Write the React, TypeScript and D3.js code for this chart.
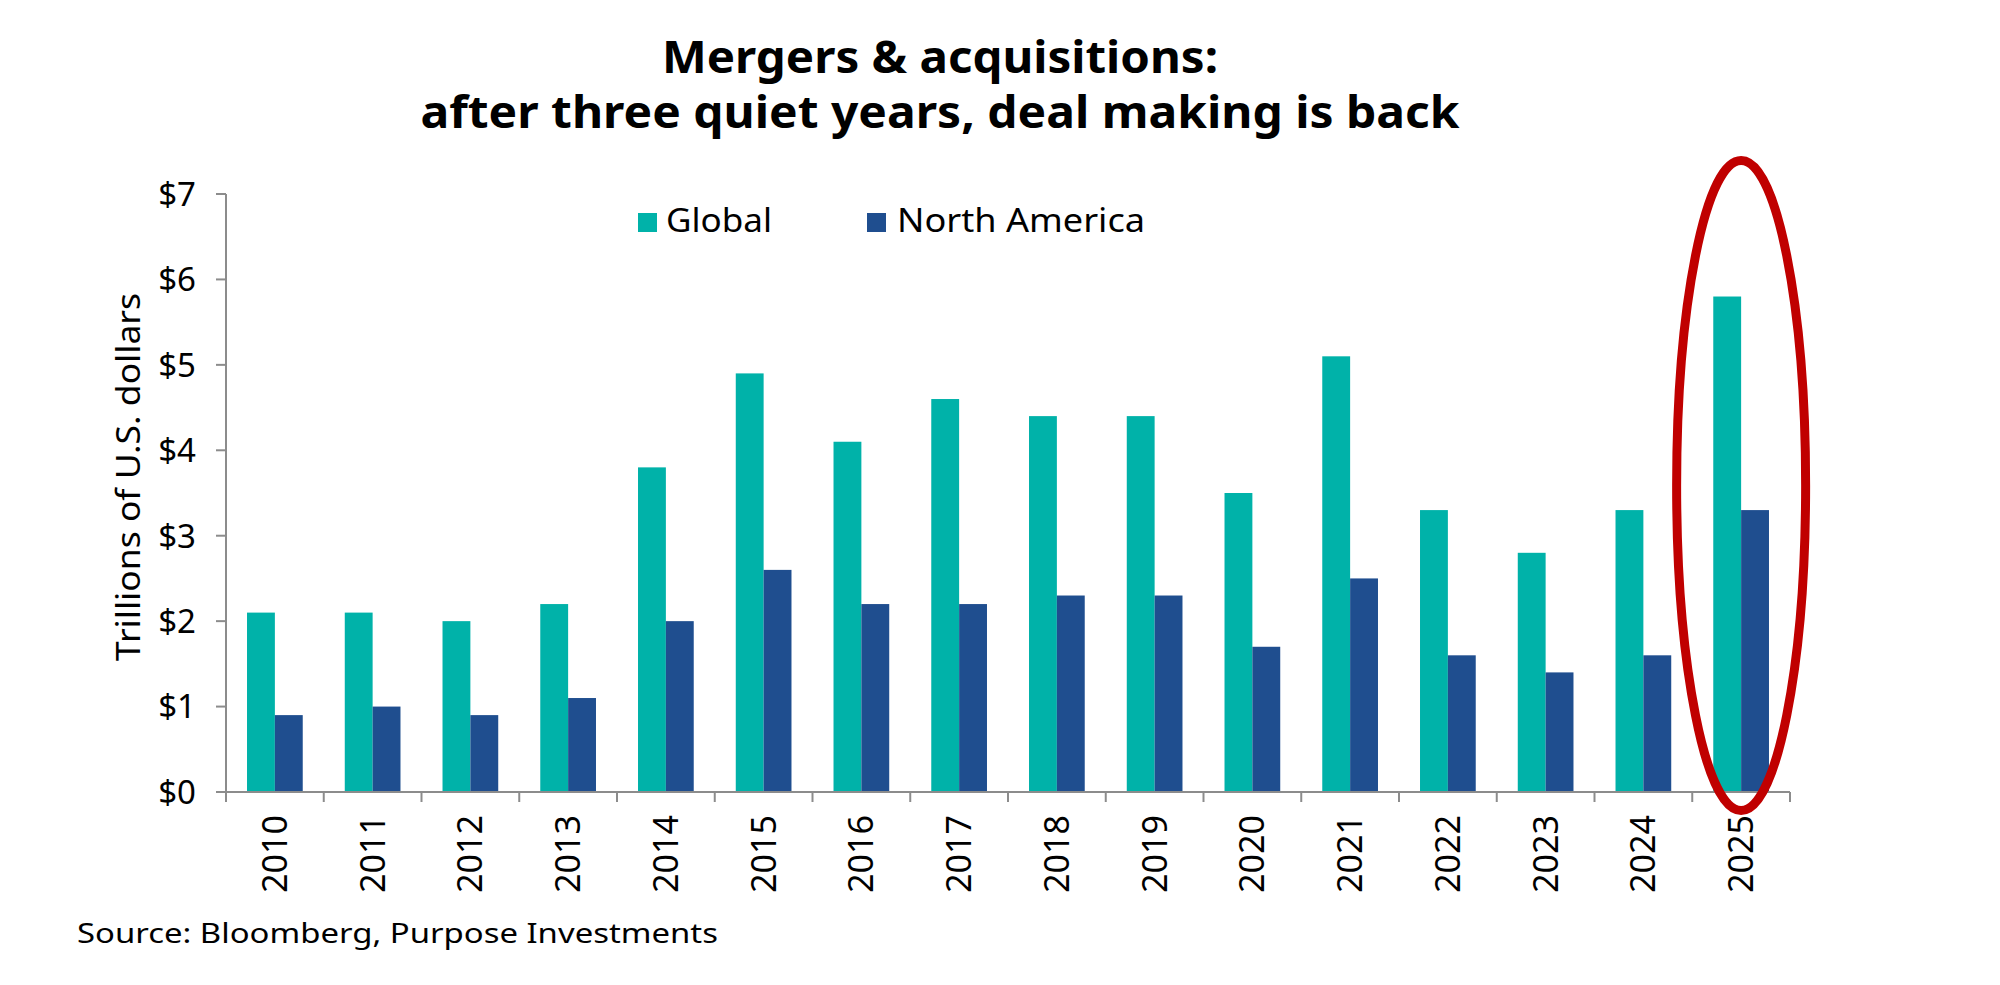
import React from "react";
import * as d3 from "d3";

const years = ["2010","2011","2012","2013","2014","2015","2016","2017","2018","2019","2020","2021","2022","2023","2024","2025"];
const globalValues = [2.1, 2.1, 2.0, 2.2, 3.8, 4.9, 4.1, 4.6, 4.4, 4.4, 3.5, 5.1, 3.3, 2.8, 3.3, 5.8];
const northAmericaValues = [0.9, 1.0, 0.9, 1.1, 2.0, 2.6, 2.2, 2.2, 2.3, 2.3, 1.7, 2.5, 1.6, 1.4, 1.6, 3.3];
const seriesNames = ["Global", "North America"];
const yTicks = [0, 1, 2, 3, 4, 5, 6, 7];
const highlightYear = "2025";

const COLORS = ["#00B2A9", "#1F4E8F"];
const FONT = "'Noto Sans', sans-serif";

export default function App() {
  const W = 2000, H = 985;
  const left = 226, right = 1790, top = 194, bottom = 792;

  const x = d3.scaleBand<string>().domain(years).range([left, right]).paddingInner(0.43).paddingOuter(0.215);
  const xs = d3.scaleBand<string>().domain(seriesNames).range([0, x.bandwidth()]);
  const y = d3.scaleLinear().domain([0, 7]).range([bottom, top]);
  const step = x.step();
  const series = [globalValues, northAmericaValues];

  const hx = (x(highlightYear) as number) + x.bandwidth() / 2;

  return (
    <svg width={W} height={H} style={{ position: "absolute", left: 0, top: 0, background: "#fff" }} fontFamily={FONT}>
      {/* Title */}
      <text x={940} y={73} textAnchor="middle" fontSize={45} fontWeight={700} fill="#000" textLength={556} lengthAdjust="spacingAndGlyphs">Mergers &amp; acquisitions:</text>
      <text x={940} y={128} textAnchor="middle" fontSize={45} fontWeight={700} fill="#000" textLength={1039} lengthAdjust="spacingAndGlyphs">after three quiet years, deal making is back</text>

      {/* Legend */}
      <rect x={638} y={213} width={19} height={19} fill={COLORS[0]} />
      <text x={666} y={232} fontSize={33} fill="#000" textLength={106} lengthAdjust="spacingAndGlyphs">{seriesNames[0]}</text>
      <rect x={867} y={213} width={19} height={19} fill={COLORS[1]} />
      <text x={897} y={232} fontSize={33} fill="#000" textLength={248} lengthAdjust="spacingAndGlyphs">{seriesNames[1]}</text>

      {/* Bars */}
      {series.map((vals, si) =>
        vals.map((v, i) => (
          <rect
            key={`${si}-${i}`}
            x={(x(years[i]) as number) + (xs(seriesNames[si]) as number)}
            y={y(v)}
            width={xs.bandwidth()}
            height={y(0) - y(v)}
            fill={COLORS[si]}
          />
        ))
      )}

      {/* Y axis */}
      <line x1={left} x2={left} y1={y(7)} y2={y(0)} stroke="#8c8c8c" strokeWidth={2} />
      {yTicks.map((t) => (
        <g key={t}>
          <line x1={left - 10} x2={left} y1={y(t)} y2={y(t)} stroke="#8c8c8c" strokeWidth={2} />
          <text x={196} y={y(t)} dy="0.36em" textAnchor="end" fontSize={33} fill="#000">{`$${t}`}</text>
        </g>
      ))}
      <text
        transform={`translate(140,477) rotate(-90)`}
        textAnchor="middle"
        fontSize={32}
        fill="#000"
        textLength={368}
        lengthAdjust="spacingAndGlyphs"
      >Trillions of U.S. dollars</text>

      {/* X axis */}
      <line x1={left} x2={right} y1={y(0)} y2={y(0)} stroke="#8c8c8c" strokeWidth={2} />
      {d3.range(years.length + 1).map((k) => (
        <line key={k} x1={left + k * step} x2={left + k * step} y1={y(0)} y2={y(0) + 10} stroke="#8c8c8c" strokeWidth={2} />
      ))}
      {years.map((yr) => {
        const cx = (x(yr) as number) + x.bandwidth() / 2;
        return (
          <text key={yr} transform={`translate(${cx + 12},815) rotate(-90)`} textAnchor="end" fontSize={34} fill="#000" textLength={78} lengthAdjust="spacingAndGlyphs">{yr}</text>
        );
      })}

      {/* Highlight ellipse */}
      <ellipse cx={hx} cy={485.5} rx={64.5} ry={325} fill="none" stroke="#C00000" strokeWidth={9} />

      {/* Source */}
      <text x={77} y={943} fontSize={28} fill="#000" textLength={641} lengthAdjust="spacingAndGlyphs">Source: Bloomberg, Purpose Investments</text>
    </svg>
  );
}
